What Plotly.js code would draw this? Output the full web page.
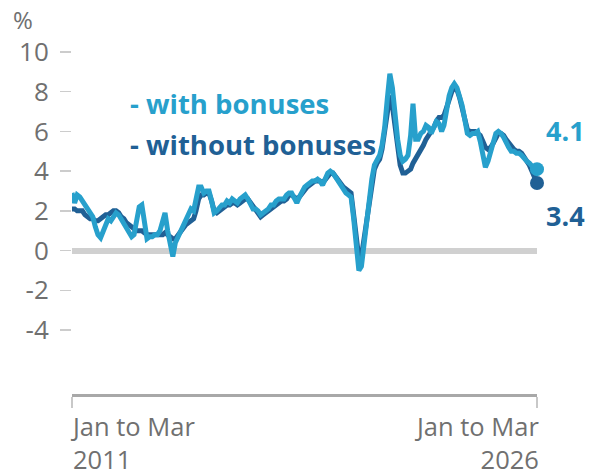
<!DOCTYPE html>
<html>
<head>
<meta charset="utf-8">
<script src="https://cdn.plot.ly/plotly-3.0.1.min.js"></script>
<style>
  html, body { margin: 0; padding: 0; background: #fff; }
  #chart { width: 595px; height: 476px; }
</style>
</head>
<body>
<div id="chart"></div>
<script>
// Period: rolling three months, first = Jan to Mar 2011 (ending March 2011), monthly steps
const firstPeriodEnd = { year: 2011, month: 3 };

// Annual growth, %, with bonuses (total pay) – one row per year, Jan-Mar ... Dec-Feb
const withBonuses = [
  2.9, 2.4, 2.8, 2.7, 2.5, 2.3, 2.0, 1.9, 1.7, 1.2, 0.8, 0.65,  // 2011
  1.0, 1.3, 1.6, 1.5, 1.7, 1.9, 1.8, 1.6, 1.4, 1.2, 0.9, 0.7,   // 2012
  0.8, 1.5, 2.2, 2.3, 1.2, 0.6, 0.7, 0.7, 0.8, 0.8, 1.0, 1.5,   // 2013
  1.9, 1.0, 0.2, -0.3, 0.4, 0.7, 1.0, 1.3, 1.6, 1.8, 2.1, 2.0,  // 2014
  2.6, 3.2, 3.2, 2.9, 3.0, 3.0, 2.5, 1.9, 2.0, 2.2, 2.3, 2.3,   // 2015
  2.5, 2.4, 2.6, 2.5, 2.4, 2.6, 2.7, 2.8, 2.6, 2.3, 2.1, 2.1,   // 2016
  2.0, 1.8, 1.9, 2.0, 2.1, 2.3, 2.3, 2.5, 2.6, 2.6, 2.6, 2.8,   // 2017
  2.9, 2.9, 2.7, 2.4, 2.7, 3.0, 3.2, 3.3, 3.4, 3.5, 3.5, 3.6,   // 2018
  3.5, 3.3, 3.6, 3.9, 4.0, 3.9, 3.7, 3.5, 3.3, 3.1, 2.9, 2.8,   // 2019
  2.7, 1.6, 0.2, -1.0, -0.8, 0.3, 1.8, 2.7, 3.6, 4.3, 4.6, 4.8, // 2020
  5.3, 6.2, 7.6, 8.9, 8.2, 6.8, 5.6, 4.8, 4.5, 4.6, 4.8, 5.8,   // 2021
  7.4, 5.6, 5.6, 5.9, 6.0, 6.3, 6.2, 5.9, 6.3, 6.5, 6.4, 6.0,   // 2022
  6.3, 7.2, 7.8, 8.2, 8.4, 8.2, 7.8, 7.3, 6.6, 5.9, 5.8, 5.9,   // 2023
  5.9, 6.0, 5.5, 4.9, 4.2, 4.5, 5.0, 5.5, 5.9, 6.0, 5.9, 5.7,   // 2024
  5.4, 5.2, 5.0, 5.0, 4.9, 4.9, 4.8, 4.6, 4.5, 4.4, 4.2, 4.1,   // 2025
  4.1                                                          // 2026
];

// Annual growth, %, without bonuses (regular pay)
const withoutBonuses = [
  2.1, 2.1, 2.0, 2.0, 2.0, 1.8, 1.7, 1.6, 1.6, 1.5, 1.5, 1.6,   // 2011
  1.7, 1.8, 1.8, 1.9, 2.0, 2.0, 1.9, 1.7, 1.6, 1.4, 1.3, 1.2,   // 2012
  1.1, 1.0, 1.0, 1.0, 0.9, 0.8, 0.8, 0.8, 0.8, 0.8, 0.8, 0.8,   // 2013
  0.9, 0.8, 0.7, 0.6, 0.6, 0.8, 1.0, 1.2, 1.3, 1.4, 1.5, 1.6,   // 2014
  2.0, 2.6, 2.8, 2.8, 2.9, 2.9, 2.5, 2.0, 1.9, 2.0, 2.1, 2.2,   // 2015
  2.3, 2.3, 2.4, 2.4, 2.3, 2.4, 2.5, 2.6, 2.6, 2.4, 2.2, 2.0,   // 2016
  1.9, 1.7, 1.8, 1.9, 2.0, 2.1, 2.2, 2.3, 2.4, 2.5, 2.5, 2.6,   // 2017
  2.8, 2.8, 2.7, 2.6, 2.7, 2.9, 3.1, 3.2, 3.3, 3.4, 3.5, 3.5,   // 2018
  3.5, 3.4, 3.6, 3.8, 3.9, 3.9, 3.7, 3.5, 3.4, 3.2, 3.1, 3.0,   // 2019
  2.9, 1.8, 0.5, -0.4, -0.3, 0.6, 1.8, 2.7, 3.5, 4.1, 4.4, 4.6, // 2020
  5.1, 6.1, 7.0, 7.8, 7.3, 6.2, 5.1, 4.3, 3.9, 3.9, 4.0, 4.1,   // 2021
  4.4, 4.6, 4.8, 5.0, 5.3, 5.6, 5.8, 5.9, 6.2, 6.5, 6.7, 6.7,   // 2022
  6.8, 7.2, 7.6, 8.0, 8.2, 8.1, 7.7, 7.2, 6.6, 6.1, 6.0, 6.0,   // 2023
  6.0, 5.9, 5.8, 5.5, 5.2, 5.1, 5.2, 5.4, 5.7, 5.9, 5.9, 5.8,   // 2024
  5.6, 5.4, 5.2, 5.1, 5.0, 5.0, 4.9, 4.7, 4.6, 4.3, 4.0, 3.7,   // 2025
  3.4                                                          // 2026
];

const seriesNames = ["- with bonuses", "- without bonuses"];
const xTickLabels = ["Jan to Mar<br>2011", "Jan to Mar<br>2026"];
const yTickVals = [-4, -2, 0, 2, 4, 6, 8, 10];
const yTickText = ["-4", "-2", "0", "2", "4", "6", "8", "10"];
const unitLabel = "%";

// Build period end dates
const dates = withBonuses.map((_, i) => {
  const m0 = firstPeriodEnd.month - 1 + i;
  const y = firstPeriodEnd.year + Math.floor(m0 / 12);
  const m = (m0 % 12) + 1;
  return y + "-" + String(m).padStart(2, "0") + "-01";
});
const last = dates.length - 1;

const LIGHT = "#27a0cc", DARK = "#206095", GREY = "#707070";
const FONT = "Open Sans";

// layout geometry helpers (pixels -> paper)
const L = 72, R = 537, T = 42, B = 395;
const px = (x) => (x - L) / (R - L);
const py = (y) => (B - y) / (B - T);

const traces = [
  {
    x: dates, y: withoutBonuses, type: "scatter", mode: "lines",
    line: { color: DARK, width: 5 }, cliponaxis: false, hoverinfo: "skip"
  },
  {
    x: dates, y: withBonuses, type: "scatter", mode: "lines",
    line: { color: LIGHT, width: 5 }, cliponaxis: false, hoverinfo: "skip"
  },
  {
    x: [dates[last]], y: [withoutBonuses[last]], type: "scatter", mode: "markers",
    marker: { color: DARK, size: 14 }, cliponaxis: false, hoverinfo: "skip"
  },
  {
    x: [dates[last]], y: [withBonuses[last]], type: "scatter", mode: "markers",
    marker: { color: LIGHT, size: 14 }, cliponaxis: false, hoverinfo: "skip"
  }
];

const axisLabelFont = { family: FONT, size: 25.5, color: GREY };

const layout = {
  width: 595, height: 476,
  margin: { l: L, r: 595 - R, t: T, b: 476 - B, pad: 0 },
  paper_bgcolor: "#fff", plot_bgcolor: "#fff",
  showlegend: false,
  font: { family: FONT, color: GREY },
  xaxis: {
    type: "date",
    range: [dates[0], dates[last]],
    anchor: "free", position: 0,
    showline: true, linecolor: "#a8a8a8", linewidth: 2.5,
    showgrid: false, zeroline: false,
    ticks: "outside", tickvals: [dates[0], dates[last]],
    ticklen: 11, tickwidth: 2, tickcolor: "#c8c8c8",
    showticklabels: false, fixedrange: true
  },
  yaxis: {
    domain: [(B - 340) / (B - T), 1],
    range: [-4.5, 10.5],
    tickvals: yTickVals, ticktext: yTickText,
    ticks: "outside", ticklen: 11, tickwidth: 1.5, tickcolor: "#cccccc",
    ticklabelstandoff: 6,
    tickfont: { family: FONT, size: 26, color: GREY },
    showgrid: false, showline: false,
    zeroline: true, zerolinecolor: "#d0d0d0", zerolinewidth: 6,
    fixedrange: true
  },
  annotations: [
    { text: unitLabel, xref: "paper", yref: "paper", x: px(11), y: py(19),
      xanchor: "left", yanchor: "middle", showarrow: false,
      font: { family: FONT, size: 24, color: GREY } },
    { text: seriesNames[0], xref: "paper", yref: "paper", x: px(128), y: py(103),
      xanchor: "left", yanchor: "middle", showarrow: false,
      font: { family: FONT, size: 27.5, color: LIGHT, weight: 700 } },
    { text: seriesNames[1], xref: "paper", yref: "paper", x: px(128), y: py(144),
      xanchor: "left", yanchor: "middle", showarrow: false,
      font: { family: FONT, size: 27.5, color: DARK, weight: 700 } },
    { text: withBonuses[last].toFixed(1), xref: "paper", yref: "paper", x: px(544), y: py(130),
      xanchor: "left", yanchor: "middle", showarrow: false,
      font: { family: FONT, size: 27, color: LIGHT, weight: 700 } },
    { text: withoutBonuses[last].toFixed(1), xref: "paper", yref: "paper", x: px(544), y: py(215),
      xanchor: "left", yanchor: "middle", showarrow: false,
      font: { family: FONT, size: 27, color: DARK, weight: 700 } },
    { text: xTickLabels[0], xref: "x", yref: "paper", x: dates[0], y: py(408),
      xanchor: "left", yanchor: "top", align: "left", showarrow: false,
      xshift: -3, borderpad: 0, font: axisLabelFont },
    { text: xTickLabels[1], xref: "x", yref: "paper", x: dates[last], y: py(408),
      xanchor: "right", yanchor: "top", align: "right", showarrow: false,
      xshift: 3, borderpad: 0, font: axisLabelFont }
  ]
};

Plotly.newPlot("chart", traces, layout, { staticPlot: true, displayModeBar: false });
</script>
</body>
</html>
